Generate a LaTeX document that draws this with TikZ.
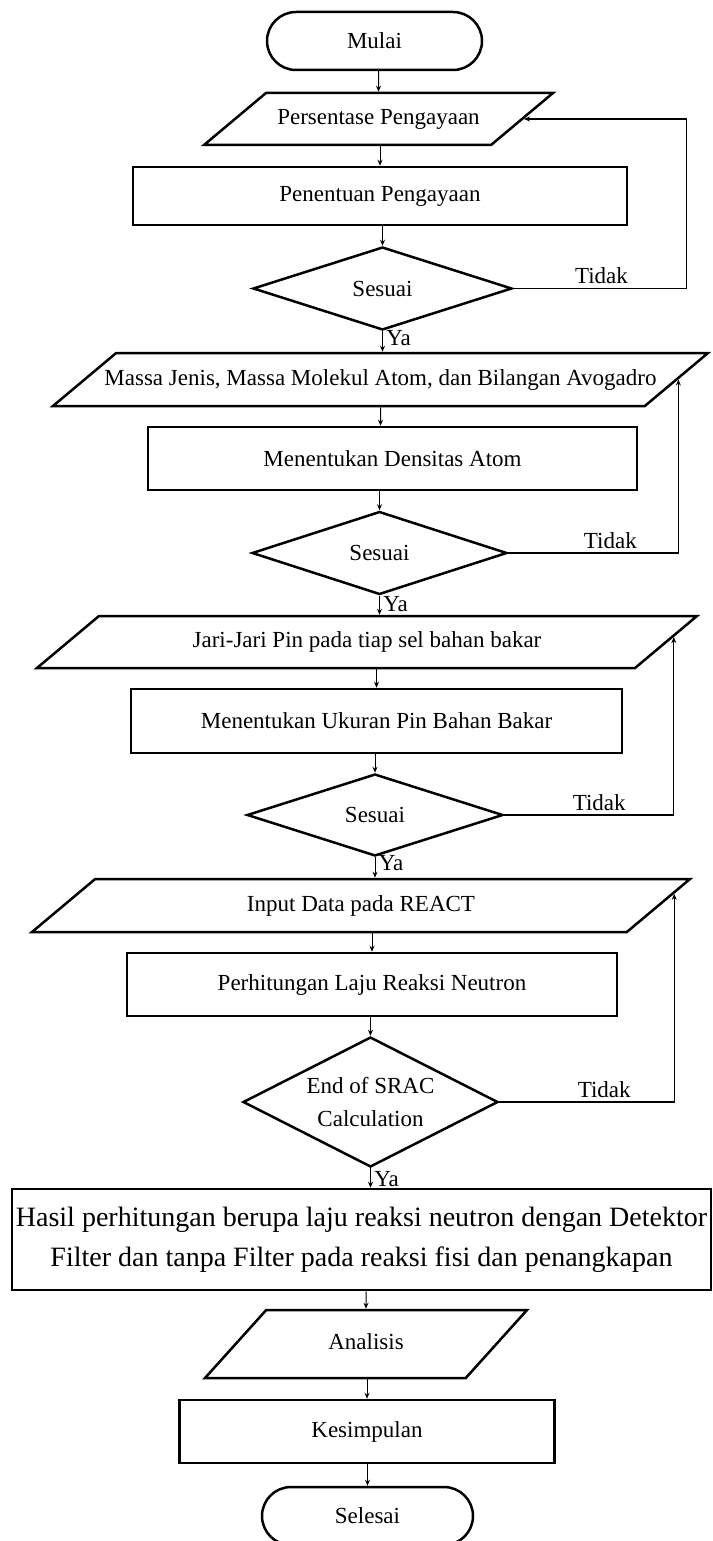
\documentclass[tikz,border=0pt]{standalone}
\usepackage{fontspec}
\setmainfont{Liberation Serif}
\usetikzlibrary{shapes.geometric, positioning, calc, arrows.meta}
\tikzset{
>={Stealth[length=6pt, width=5pt]}, % small filled arrow heads
every node/.style={font=\fontsize{23}{28}\selectfont},
term/.style={rectangle, rounded corners=29pt, draw, line width=2.5pt, minimum height=58pt}, % start / end
io/.style={trapezium, trapezium left angle=40, trapezium right angle=140, trapezium stretches body, draw, line width=2.5pt, inner xsep=0pt, text height=16pt, text depth=5pt}, % data
proc/.style={rectangle, draw, line width=2.5pt}, % process box
dec/.style={diamond, shape aspect=2, draw, line width=2.5pt, inner sep=0pt}, % decision
flow/.style={->, line width=1pt},
back/.style={->, line width=1.2pt},
}

\begin{document}
\begin{tikzpicture}[x=1pt, y=1pt]
    \useasboundingbox (0,0) rectangle (712,-1541);

    \node[term, minimum width=215pt] (start) at (374.5,-41) {Mulai};
    \node[io, node distance=78pt, below of=start, xshift=4pt, minimum width=349pt, inner ysep=15.5pt] (in1) {Persentase Pengayaan};
    \node[proc, node distance=77pt, below of=in1, xshift=1.5pt, minimum width=494pt, minimum height=58pt] (p1) {Penentuan Pengayaan};
    \node[dec, node distance=92.5pt, below of=p1, xshift=2.5pt, minimum width=259pt, minimum height=83pt] (d1) {Sesuai};

    \node[io, node distance=91pt, below of=d1, xshift=-2pt, minimum width=655pt, inner ysep=16pt, inner xsep=-14pt] (in2) {Massa Jenis, Massa Molekul Atom, dan Bilangan Avogadro};
    \node[proc, node distance=79pt, below of=in2, xshift=12pt, minimum width=489pt, minimum height=63pt] (p2) {Menentukan Densitas Atom};
    \node[dec, node distance=94.5pt, below of=p2, xshift=-13pt, minimum width=255pt, minimum height=83pt] (d2) {Sesuai};

    \node[io, node distance=89pt, below of=d2, xshift=-12.5pt, minimum width=660pt, inner ysep=15.5pt] (in3) {Jari-Jari Pin pada tiap sel bahan bakar};
    \node[proc, node distance=79pt, below of=in3, xshift=9.5pt, minimum width=491pt, minimum height=64pt] (p3) {Menentukan Ukuran Pin Bahan Bakar};
    \node[dec, node distance=94pt, below of=p3, xshift=-1.5pt, minimum width=256pt, minimum height=82pt] (d3) {Sesuai};

    \node[io, node distance=90.5pt, below of=d3, xshift=-14pt, minimum width=658pt, inner ysep=16pt] (in4) {Input Data pada REACT};
    \node[proc, node distance=79pt, below of=in4, xshift=11pt, minimum width=490pt, minimum height=63pt] (p4) {Perhitungan Laju Reaksi Neutron};
    \node[dec, node distance=117.5pt, below of=p4, xshift=-1.5pt, minimum width=255pt, minimum height=130pt, align=center, font=\fontsize{23}{33}\selectfont] (d4) {End of SRAC\\Calculation};

    \node[proc, node distance=137.5pt, below of=d4, xshift=-9pt, minimum width=699pt, minimum height=101pt, align=center, font=\fontsize{28}{40}\selectfont] (hasil) {Hasil perhitungan berupa laju reaksi neutron dengan Detektor\\Filter dan tanpa Filter pada reaksi fisi dan penangkapan};
    \node[io, trapezium left angle=48, trapezium right angle=132, node distance=104.5pt, below of=hasil, xshift=4.5pt, minimum width=322pt, inner ysep=23.5pt] (an) {Analisis};
    \node[proc, node distance=87.5pt, below of=an, xshift=1pt, minimum width=375pt, minimum height=63pt] (kes) {Kesimpulan};
    \node[term, node distance=84.5pt, below of=kes, xshift=.5pt, minimum width=211pt] (end) {Selesai};

    % main flow
    \draw[flow] (in1 |- start.south) -- (in1);
    \draw[flow] (p1 |- in1.south) -- (p1);
    \draw[flow] (d1 |- p1.south) -- (d1);
    \draw[flow] (d1) -- node[right, pos=.35] {Ya} (d1 |- in2.north);
    \draw[flow] (in2) -- (in2 |- p2.north);
    \draw[flow] (d2 |- p2.south) -- (d2);
    \draw[flow] (d2) -- node[right, pos=.45] {Ya} (d2 |- in3.north);
    \draw[flow] (p3 |- in3.south) -- (p3);
    \draw[flow] (d3 |- p3.south) -- (d3);
    \draw[flow] (d3) -- node[right, pos=.3] {Ya} (d3 |- in4.north);
    \draw[flow] (p4 |- in4.south) -- (p4);
    \draw[flow] (d4 |- p4.south) -- (d4);
    \draw[flow] (d4) -- node[right, pos=.55] {Ya} (d4 |- hasil.north);
    \draw[flow] (an |- hasil.south) -- (an);
    \draw[flow] (kes |- an.south) -- (kes);
    \draw[flow] (end |- kes.south) -- (end);

    % back loops
    \draw[back] (d1.east) -- node[above, pos=.51, inner sep=4pt] {Tidak} ++(173,0) |- (in1.east);
    \draw[back] (d2.east) -| node[above, pos=.3, inner sep=4pt] {Tidak} (in2.east);
    \draw[back] (d3.east) -| node[above, pos=.28, inner sep=4pt] {Tidak} ($(in3.top right corner)!.41!(in3.bottom right corner)$);
    \draw[back] (d4.east) -| node[above, pos=.3, inner sep=4pt] {Tidak} ($(in4.top right corner)!.29!(in4.bottom right corner)$);
\end{tikzpicture}
\end{document}
